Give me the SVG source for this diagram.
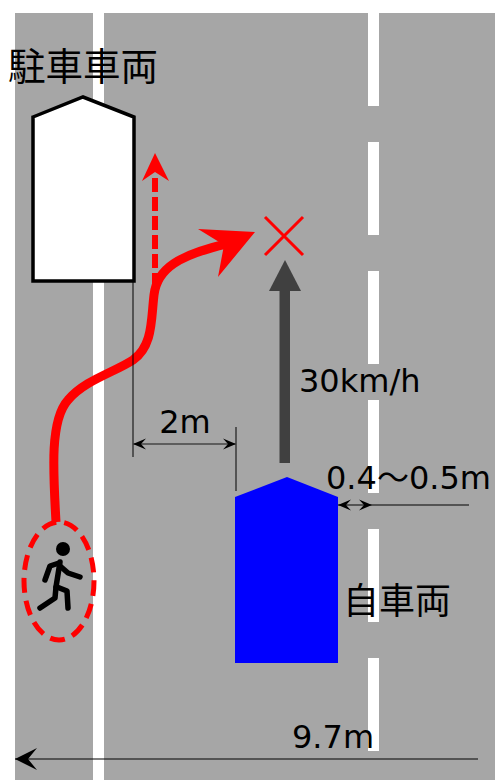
<svg xmlns="http://www.w3.org/2000/svg" width="495" height="780" viewBox="0 0 495 780">
  <style>
    .road { fill: #a6a6a6; }
    .lane { fill: #ffffff; }
    .lbl { font-family: "DejaVu Sans", "Noto Sans CJK JP", sans-serif; font-size: 32px; fill: #000; }
    .jp { font-family: "Noto Sans CJK JP", "DejaVu Sans", sans-serif; font-size: 36px; fill: #000; }
    .ext { stroke: #000; stroke-width: 1; fill: none; }
    .dim { stroke: #000; stroke-width: 1.2; fill: none; }
    .red { fill: none; stroke: #ff0000; }
  </style>
  <defs>
    <marker id="tick" viewBox="0 0 13 12" refX="13" refY="6" markerWidth="13" markerHeight="12" markerUnits="userSpaceOnUse" orient="auto-start-reverse">
      <path d="M0,0.5 L13,6 L0,11.5 L5,6 Z" fill="#000"/>
    </marker>
    <marker id="bigTick" viewBox="0 0 22 22" refX="22" refY="11" markerWidth="22" markerHeight="22" markerUnits="userSpaceOnUse" orient="auto">
      <path d="M0,0 L22,11 L0,22 L9,11 Z" fill="#000"/>
    </marker>
  </defs>

  <!-- road surface and lane markings -->
  <g id="road">
    <rect class="road" x="15" y="13" width="480" height="767"/>
    <rect class="lane" x="93" y="13" width="11" height="767"/>
    <rect class="lane" x="368" y="13" width="11" height="93"/>
    <rect class="lane" x="368" y="142" width="11" height="93"/>
    <rect class="lane" x="368" y="271" width="11" height="93"/>
    <rect class="lane" x="368" y="400" width="11" height="93"/>
    <rect class="lane" x="368" y="529" width="11" height="93"/>
    <rect class="lane" x="368" y="658" width="11" height="93"/>
  </g>

  <!-- parked vehicle -->
  <g id="parked-car">
    <polygon points="33,117 83,97 134,117 134,281 33,281" fill="#ffffff" stroke="#000" stroke-width="3.5"/>
    <text class="jp" x="8" y="80" style="font-size:37.5px">駐車車両</text>
  </g>

  <!-- own vehicle -->
  <g id="own-car">
    <polygon points="235,497 287,477 338,497 338,663 235,663" fill="#0000ff"/>
    <text class="jp" x="343" y="614">自車両</text>
  </g>

  <!-- pedestrian -->
  <g id="pedestrian">
    <ellipse class="red" cx="59" cy="581" rx="35" ry="59" stroke-width="5" stroke-dasharray="15,8"/>
    <circle cx="63" cy="549" r="7" fill="#000"/>
    <g stroke="#000" stroke-width="5.5" stroke-linecap="round" stroke-linejoin="round" fill="none">
      <path d="M60,562 L56,587"/>
      <path d="M59,563 L50,566 L45,580"/>
      <path d="M60,566 L68,573 L80,577"/>
      <path d="M56,587 L55,598 L40,608"/>
      <path d="M57,587 L67,591 L68,608"/>
    </g>
  </g>

  <!-- collision point -->
  <g id="conflict-mark">
    <path d="M265,217 L303,255 M303,217 L265,255" stroke="#ff0000" stroke-width="3"/>
  </g>

  <!-- labels -->
  <g id="labels">
    <text class="lbl" x="299" y="392">30km/h</text>
    <text class="lbl" x="185" y="433" text-anchor="middle">2m</text>
    <text class="lbl" x="326" y="489">0.4〜0.5m</text>
    <text class="lbl" x="292" y="748">9.7m</text>
  </g>

  <g id="connectors">
    <!-- pedestrian path around the parked vehicle -->
    <path class="red" stroke-width="9" stroke-linecap="butt" d="M56,522 C53,470 50,420 68,400 C85,380 115,372 133,360 C153,346 151,320 154,295 C157,268 180,255 226,244"/>
    <polygon points="255,232 198,229 224,245 218,277" fill="#ff0000"/>
    <!-- straight path the pedestrian could take -->
    <path class="red" stroke-width="6" stroke-dasharray="14,5" d="M155,178 L155,287"/>
    <polygon points="155,153 169,181 155,172 142,181" fill="#ff0000"/>
    <!-- own vehicle heading -->
    <rect x="279.5" y="290" width="10.5" height="173" fill="#404040"/>
    <polygon points="285,260 301,291 269,291" fill="#404040"/>
    <!-- dimension: distance from parked vehicle -->
    <line class="ext" x1="133" y1="281" x2="133" y2="457"/>
    <line class="ext" x1="236" y1="427" x2="236" y2="491"/>
    <line class="dim" x1="133" y1="444" x2="236" y2="444" style="stroke:#444;stroke-width:1.6" marker-start="url(#tick)" marker-end="url(#tick)"/>
    <!-- dimension: gap to lane line -->
    <line class="dim" x1="338" y1="505" x2="372" y2="505" marker-start="url(#tick)" marker-end="url(#tick)"/>
    <line class="dim" x1="372" y1="505" x2="469" y2="505"/>
    <!-- dimension: road width -->
    <line class="dim" x1="478" y1="759" x2="15" y2="759" marker-end="url(#bigTick)"/>
  </g>
</svg>
